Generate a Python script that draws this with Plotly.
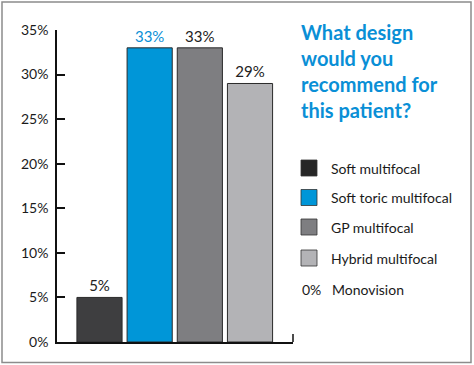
import plotly.graph_objects as go

categories = ["Soft multifocal", "Soft toric multifocal", "GP multifocal", "Hybrid multifocal"]
values = [5, 33, 33, 29]
other_label = "Monovision"
other_value = 0
y_ticks = [0, 5, 10, 15, 20, 25, 30, 35]
title_lines = ["What design", "would you", "recommend for", "this patient?"]

bar_colors = ["#3e3e40", "#0096d8", "#7e7e81", "#b3b3b6"]
legend_colors = ["#262626", "#0096d8", "#7e7e81", "#b3b3b6"]
label_colors = ["#222222", "#0a8fd6", "#222222", "#222222"]
BLUE = "#0a8fd6"
FONT = "Lato, 'Open Sans', sans-serif"

W, H = 474, 365
L, R, T, B = 57, 293, 30, 342  # plot area in px


def px_x(px):
    return (px - L) / (R - L)


def px_y(py):
    return (B - py) / (B - T)


fig = go.Figure()
fig.add_trace(go.Bar(
    x=categories,
    y=values,
    width=0.9,
    marker=dict(color=bar_colors, line=dict(color="#2a2a2a", width=1)),
    text=[f"{v}%" for v in values],
    textposition="outside",
    textfont=dict(color=label_colors, size=15, family=FONT),
    cliponaxis=False,
    showlegend=False,
    hoverinfo="skip",
))

shapes = []
annotations = []

# outer frame
shapes.append(dict(type="rect", xref="paper", yref="paper",
                   x0=px_x(2), x1=px_x(471), y0=px_y(362.5), y1=px_y(2),
                   line=dict(color="#8c8c8c", width=1.5), fillcolor="rgba(0,0,0,0)", layer="below"))
# right end tick of the x axis
shapes.append(dict(type="line", xref="paper", yref="paper",
                   x0=1, x1=1, y0=0, y1=px_y(334),
                   line=dict(color="#111111", width=1.5)))

# title
annotations.append(dict(
    xref="paper", yref="paper", x=px_x(299), y=px_y(18), xanchor="left", yanchor="top",
    align="left", showarrow=False,
    text="<b>" + "<br>".join(title_lines) + "</b>",
    font=dict(family=FONT, size=20, color=BLUE),
))

# legend
row_centers = [168, 197.5, 227, 258, 289]
for i, cat in enumerate(categories):
    cy = row_centers[i]
    shapes.append(dict(type="rect", xref="paper", yref="paper",
                       x0=px_x(301), x1=px_x(317), y0=px_y(cy + 8), y1=px_y(cy - 8),
                       fillcolor=legend_colors[i], line=dict(color="#333333", width=0.8)))
    annotations.append(dict(xref="paper", yref="paper", x=px_x(329), y=px_y(cy),
                            xanchor="left", yanchor="middle", showarrow=False,
                            text=cat, font=dict(family=FONT, size=14, color="#1a1a1a")))
annotations.append(dict(xref="paper", yref="paper", x=px_x(300), y=px_y(row_centers[4]),
                        xanchor="left", yanchor="middle", showarrow=False,
                        text=f"{other_value}%\u2002 {other_label}",
                        font=dict(family=FONT, size=14, color="#1a1a1a")))

fig.update_layout(
    width=W, height=H,
    margin=dict(l=L, r=W - R, t=T, b=H - B, pad=0),
    paper_bgcolor="white", plot_bgcolor="white",
    bargap=0.1,
    shapes=shapes,
    annotations=annotations,
    xaxis=dict(range=[-0.847, 3.857], showticklabels=False, ticks="",
               showgrid=False, zeroline=False,
               showline=True, linecolor="#111111", linewidth=1.5, fixedrange=True),
    yaxis=dict(range=[0, 35], tickvals=y_ticks, ticktext=[f"{t}%" for t in y_ticks],
               ticks="inside", ticklen=8, tickwidth=1.5, tickcolor="#111111",
               showgrid=False, zeroline=False,
               showline=True, linecolor="#111111", linewidth=1.5,
               tickfont=dict(family=FONT, size=14, color="#1a1a1a"), ticklabelstandoff=4,
               fixedrange=True),
    showlegend=False,
)

fig.write_html("out.html", config={"displayModeBar": False},
               post_script="document.body.style.margin='0';")
